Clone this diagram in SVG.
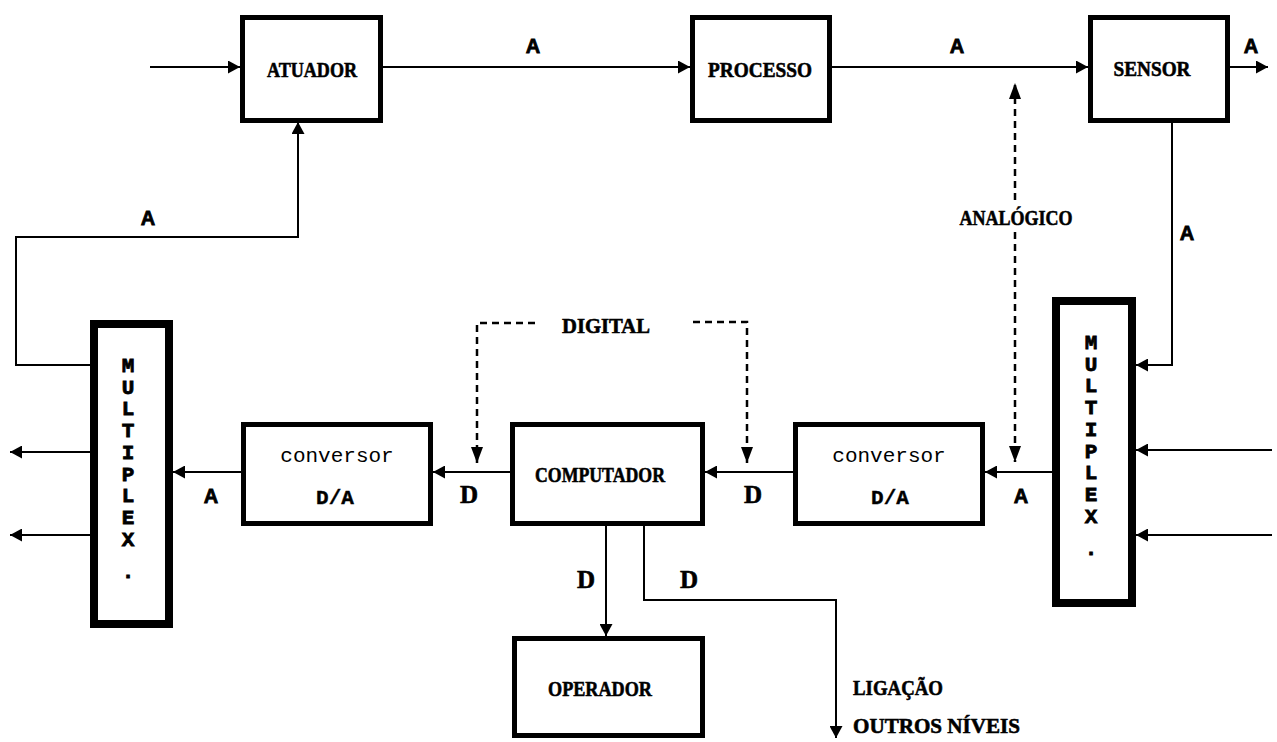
<svg xmlns="http://www.w3.org/2000/svg" width="1277" height="742" viewBox="0 0 1277 742">
<style>
.box{fill:#fff;stroke:#000;stroke-width:5}
.mux{fill:#fff;stroke:#000;stroke-width:8}
.ln{fill:none;stroke:#000;stroke-width:2}
.dash{fill:none;stroke:#000;stroke-width:2.5;stroke-dasharray:7 5}
.lbl{font-family:"Liberation Serif",serif;font-weight:bold;font-size:22px;text-anchor:middle;fill:#000;stroke:#000;stroke-width:0.6}
.sig{font-family:"Liberation Sans",sans-serif;font-weight:bold;font-size:20px;text-anchor:middle;fill:#000;stroke:#000;stroke-width:0.8}
.dd{font-family:"Liberation Serif",serif;font-weight:bold;font-size:25px;text-anchor:middle;fill:#000;stroke:#000;stroke-width:0.6}
.mono{font-family:"Liberation Mono",monospace;font-size:21px;text-anchor:middle;fill:#000}
.monob{font-family:"Liberation Mono",monospace;font-weight:bold;font-size:21px;text-anchor:middle;fill:#000;stroke:#000;stroke-width:0.4}
.mx{font-family:"Liberation Mono",monospace;font-weight:bold;font-size:21px;text-anchor:middle;fill:#000;stroke:#000;stroke-width:0.8}
</style>
<defs>
<marker id="ah" markerUnits="userSpaceOnUse" markerWidth="13" markerHeight="13" refX="12" refY="6.5" orient="auto">
<path d="M0,0 L12,6.5 L0,13 z" fill="#000"/>
</marker>
<marker id="ahd" markerUnits="userSpaceOnUse" markerWidth="17" markerHeight="12" refX="16" refY="6" orient="auto-start-reverse">
<path d="M0,0 L16,6 L0,12 z" fill="#000"/>
</marker>
</defs>
<rect width="1277" height="742" fill="#fff"/>

<g id="connectors">
<path class="ln" d="M150,67 H240" marker-end="url(#ah)"/>
<path class="ln" d="M383,67 H690" marker-end="url(#ah)"/>
<path class="ln" d="M832,67 H1088" marker-end="url(#ah)"/>
<path class="ln" d="M1230,67 H1268" marker-end="url(#ah)"/>
<path class="ln" d="M1172,120 V365 H1136" marker-end="url(#ah)"/>
<path class="ln" d="M1272,450 H1136" marker-end="url(#ah)"/>
<path class="ln" d="M1272,535 H1136" marker-end="url(#ah)"/>
<path class="ln" d="M1052,472 H985" marker-end="url(#ah)"/>
<path class="ln" d="M793,472 H705" marker-end="url(#ah)"/>
<path class="ln" d="M510,472 H433" marker-end="url(#ah)"/>
<path class="ln" d="M241,472 H173" marker-end="url(#ah)"/>
<path class="ln" d="M90,452 H10" marker-end="url(#ah)"/>
<path class="ln" d="M90,535 H10" marker-end="url(#ah)"/>
<path class="ln" d="M90,365 H16 V237 H298 V122" marker-end="url(#ah)"/>
<path class="ln" d="M606,525 V636" marker-end="url(#ah)"/>
<path class="ln" d="M644,525 V600 H836 V738" marker-end="url(#ah)"/>
<path class="dash" d="M535,323 H477 V463" marker-end="url(#ahd)"/>
<path class="dash" d="M693,322 H747 V463" marker-end="url(#ahd)"/>
<path class="dash" d="M1015,200 V83" marker-end="url(#ahd)"/>
<path class="dash" d="M1015,232 V462" marker-end="url(#ahd)"/>
</g>

<g id="atuador">
<rect class="box" x="242.5" y="17.5" width="138" height="103"/>
<text class="lbl" x="312" y="77" textLength="90" lengthAdjust="spacingAndGlyphs">ATUADOR</text>
</g>
<g id="processo">
<rect class="box" x="692.5" y="17.5" width="137" height="103"/>
<text class="lbl" x="760" y="77" textLength="104" lengthAdjust="spacingAndGlyphs">PROCESSO</text>
</g>
<g id="sensor">
<rect class="box" x="1090.5" y="17.5" width="137" height="103"/>
<text class="lbl" x="1152" y="76" textLength="77" lengthAdjust="spacingAndGlyphs">SENSOR</text>
</g>
<g id="multiplex-right">
<rect class="mux" x="1056" y="301" width="76" height="302"/>
<text class="mx"><tspan x="1091" y="349">M</tspan><tspan x="1091" dy="21.7">U</tspan><tspan x="1091" dy="21.7">L</tspan><tspan x="1091" dy="21.7">T</tspan><tspan x="1091" dy="21.7">I</tspan><tspan x="1091" dy="21.7">P</tspan><tspan x="1091" dy="21.7">L</tspan><tspan x="1091" dy="21.7">E</tspan><tspan x="1091" dy="21.7">X</tspan><tspan x="1091" dy="32">.</tspan></text>
</g>
<g id="conversor-right">
<rect class="box" x="795.5" y="424.5" width="187" height="99"/>
<text class="mono" x="889" y="462">conversor</text>
<text class="monob" x="890" y="504">D/A</text>
</g>
<g id="computador">
<rect class="box" x="512.5" y="424.5" width="190" height="99"/>
<text class="lbl" x="600" y="482" font-size="24" textLength="130" lengthAdjust="spacingAndGlyphs">COMPUTADOR</text>
</g>
<g id="conversor-left">
<rect class="box" x="243.5" y="424.5" width="187" height="99"/>
<text class="mono" x="337" y="462">conversor</text>
<text class="monob" x="335" y="504">D/A</text>
</g>
<g id="multiplex-left">
<rect class="mux" x="94" y="324" width="75" height="300"/>
<text class="mx"><tspan x="128" y="372">M</tspan><tspan x="128" dy="21.7">U</tspan><tspan x="128" dy="21.7">L</tspan><tspan x="128" dy="21.7">T</tspan><tspan x="128" dy="21.7">I</tspan><tspan x="128" dy="21.7">P</tspan><tspan x="128" dy="21.7">L</tspan><tspan x="128" dy="21.7">E</tspan><tspan x="128" dy="21.7">X</tspan><tspan x="128" dy="32">.</tspan></text>
</g>
<g id="operador">
<rect class="box" x="514.5" y="638.5" width="188" height="97"/>
<text class="lbl" x="600" y="696" textLength="104" lengthAdjust="spacingAndGlyphs">OPERADOR</text>
</g>

<g id="labels">
<text class="sig" x="533" y="53">A</text>
<text class="sig" x="957" y="53">A</text>
<text class="sig" x="1251" y="53">A</text>
<text class="sig" x="148" y="225">A</text>
<text class="sig" x="1187" y="240">A</text>
<text class="sig" x="211" y="503">A</text>
<text class="sig" x="1021" y="503">A</text>
<text class="dd" x="469" y="503">D</text>
<text class="dd" x="753" y="503">D</text>
<text class="dd" x="586" y="588">D</text>
<text class="dd" x="689" y="588">D</text>
<text class="lbl" x="606" y="333" textLength="88" lengthAdjust="spacingAndGlyphs">DIGITAL</text>
<text class="lbl" x="1016" y="225" textLength="113" lengthAdjust="spacingAndGlyphs">ANALÓGICO</text>
<text class="lbl" x="853" y="695" style="text-anchor:start" textLength="90" lengthAdjust="spacingAndGlyphs">LIGAÇÃO</text>
<text class="lbl" x="853" y="733" style="text-anchor:start" textLength="167" lengthAdjust="spacingAndGlyphs">OUTROS NÍVEIS</text>
</g>
</svg>
